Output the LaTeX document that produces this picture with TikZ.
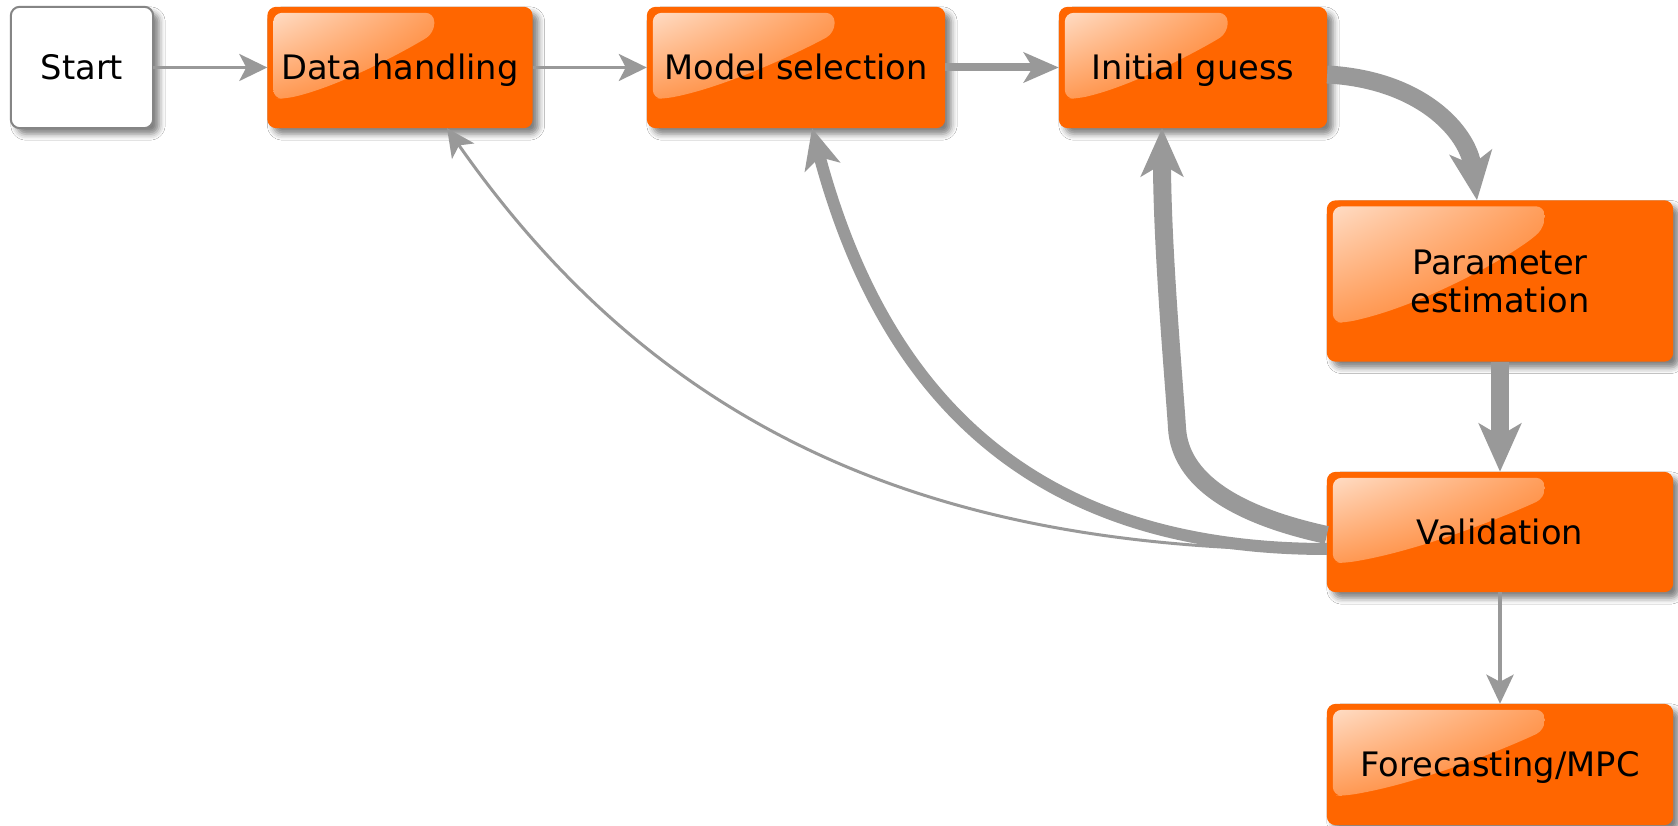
\documentclass[tikz,border=0pt]{standalone}
\usepackage{fontspec}
\setmainfont{DejaVu Sans}
\usetikzlibrary{arrows.meta,shadows.blur,shadings,calc}

\definecolor{boxorange}{HTML}{FF6600}
\definecolor{linkgray}{HTML}{999999}
\definecolor{edgegray}{HTML}{858585}
\definecolor{hlA}{HTML}{FFDCC4}
\definecolor{hlB}{HTML}{FF9E5C}
\definecolor{hlC}{HTML}{FF9A55}
\definecolor{hlD}{HTML}{FF7A20}

\pgfdeclarelayer{cards}
\pgfsetlayers{cards,main}

% orange card body with shadow and glossy highlight behind node #1
% (#2 = width, #3 = height)
\newcommand\cardback[3]{%
  \fill[boxorange, rounded corners=9pt, shadowed]
    (#1.north west) rectangle (#1.south east);
  \begin{scope}[shift={(#1.north west)}]
    \shade[upper left=hlA, upper right=hlB, lower left=hlC, lower right=hlD,
           rounded corners=9pt]
      (6,{-0.76*#3}) -- (6,-6) -- ({0.63*#2},-6) -- ({0.63*#2},-26)
      .. controls ({0.563*#2},{-0.31*#3}) and ({0.29*#2},{-0.65*#3}) ..
      (18,{-0.76*#3}) -- cycle;
  \end{scope}}

\begin{document}
\begin{tikzpicture}[x=1pt,y=1pt,
  every node/.style={font=\fontsize{33.7}{38}\selectfont},
  shadowed/.style={blur shadow={shadow xshift=6pt,shadow yshift=-6pt,
                   shadow blur radius=6pt,shadow opacity=50}},
  card/.style 2 args={inner sep=0pt, minimum width=#1pt, minimum height=#2pt},
  oneline/.style={text height=24.5pt, text depth=0pt},
  link/.style={draw=linkgray, line cap=butt},
  thinlink/.style={link, line width=3pt, -{Stealth[length=28pt,width=27pt,inset=7pt]}},
  downlink/.style={link, line width=4.5pt, -{Stealth[length=29pt,width=27pt,inset=7pt]}},
  medlink/.style={link, line width=8pt, -{Stealth[length=35pt,width=30pt,inset=9pt]}},
  backlink/.style={link, line width=12pt, -{Stealth[length=40pt,width=36pt,inset=10pt]}},
  heavylink/.style={link, line width=18pt, -{Stealth[length=48pt,width=42pt,inset=12pt]}}
]
\useasboundingbox (0,0) rectangle (1678,826);

% boxes (text only; bodies are painted on the card layer)
\node[card={142}{121}, oneline] (start) at (82,758.5) {Start};
\node[card={265}{121}, oneline] (dh) at (400,758.5) {Data handling};
\node[card={298}{121}, oneline] (ms) at (796,758.5) {Model selection};
\node[card={268}{121}, oneline] (ig) at (1193,758.5) {Initial guess};
\node[card={346}{161}, align=center] (pe) at (1500,545) {Parameter\\estimation};
\node[card={346}{120}, oneline] (v) at (1500,294) {Validation};
\node[card={346}{121}, oneline] (f) at (1500,61.5) {Forecasting/MPC};

\begin{pgfonlayer}{cards}
  \fill[white] (0,0) rectangle (1678,826);
  \filldraw[fill=white, draw=edgegray, line width=2pt, rounded corners=9pt, shadowed]
    (start.north west) rectangle (start.south east);
  \cardback{dh}{265}{121}
  \cardback{ms}{298}{121}
  \cardback{ig}{268}{121}
  \cardback{pe}{346}{161}
  \cardback{v}{346}{120}
  \cardback{f}{346}{121}
\end{pgfonlayer}

% forward flow
\draw[thinlink] (start.east) -- (dh.west);
\draw[thinlink] (dh.east) -- (ms.west);
\draw[medlink] (ms.east) -- (ig.west);
\draw[heavylink] ($(ig.east)+(0,-7)$) .. controls +(93,-5) and +(-9,69) .. ($(pe.north)+(-23,0)$);
\draw[heavylink] (pe.south) -- (v.north);
\draw[downlink] (v.south) -- (f.north);

% feedback from validation
\draw[thinlink] ($(v.west)+(0,-18)$) to[out=180,in=-55] ($(dh.south)+(47,0)$);
\draw[backlink] ($(v.west)+(0,-17)$) to[out=180,in=-75,looseness=1.1] ($(ms.south)+(16,0)$);
\draw[heavylink] ($(v.west)+(0,-3)$) .. controls +(-92,20) and +(3,-52) .. (1177,398)
  .. controls +(-2.5,40) and +(0,-121) .. ($(ig.south)+(-31,0)$);
\end{tikzpicture}
\end{document}
